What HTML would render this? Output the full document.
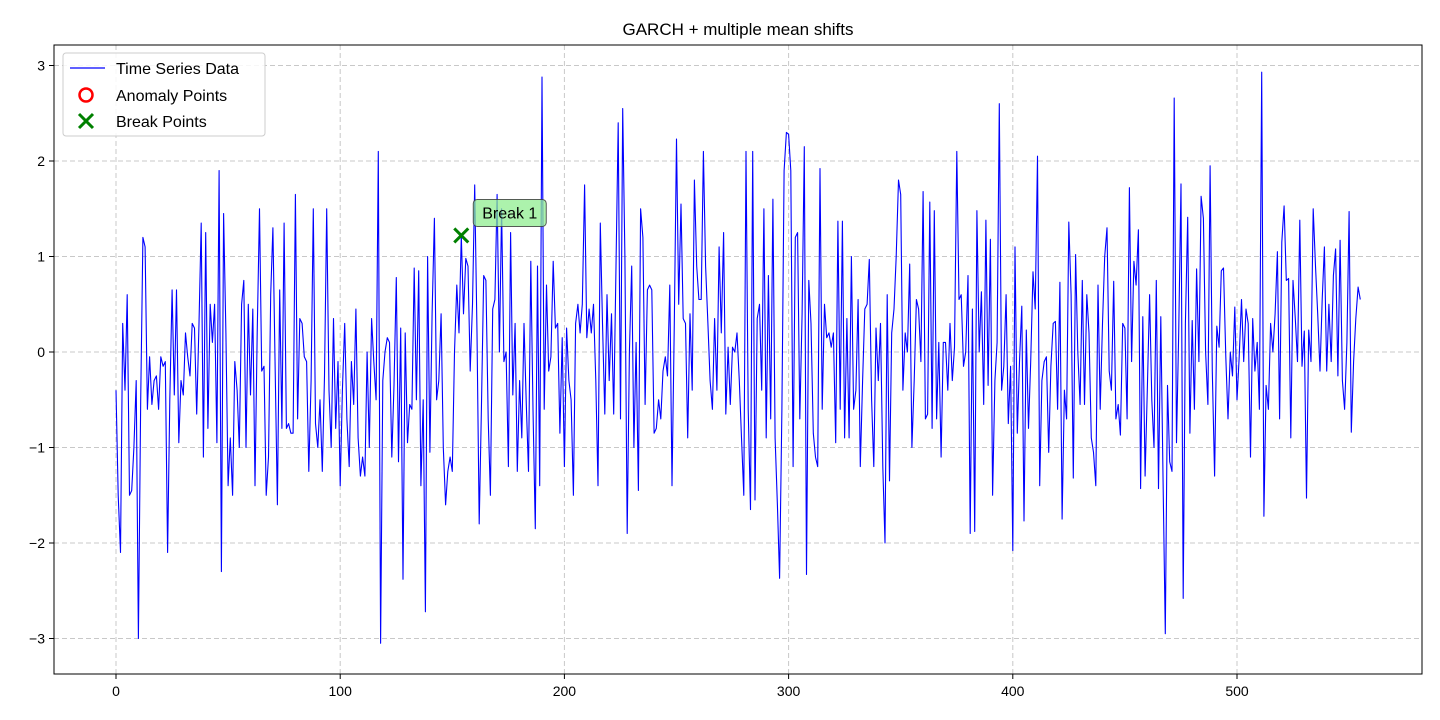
<!DOCTYPE html>
<html><head><meta charset="utf-8"><style>
body{margin:0;background:#fff;}
svg{display:block;font-family:"Liberation Sans","DejaVu Sans",sans-serif;}
</style></head><body>
<svg id="chart" width="1440" height="720">
<rect width="1440" height="720" fill="#fff"/>
<text x="738" y="35" font-size="17" text-anchor="middle">GARCH + multiple mean shifts</text>
<g id="grid"></g>
<polyline id="series" fill="none" stroke="#0000ff" stroke-width="1.1" stroke-linejoin="round"/>
<g id="breaks"></g>
<rect x="54" y="45" width="1368" height="629" fill="none" stroke="#000" stroke-width="1"/>
<g id="ticks"></g>
<g>
<rect x="63" y="53" width="202" height="83" rx="3" fill="#fff" fill-opacity="0.85" stroke="#ccc"/>
<line x1="70" y1="68" x2="105" y2="68" stroke="#0000ff" stroke-width="1.2"/>
<text x="116" y="74" font-size="16">Time Series Data</text>
<circle cx="86" cy="95" r="6.5" fill="none" stroke="#ff0000" stroke-width="2.5"/>
<text x="116" y="101" font-size="16">Anomaly Points</text>
<path d="M79,114 L93,128 M93,114 L79,128" stroke="#008000" stroke-width="3"/>
<text x="116" y="127" font-size="16">Break Points</text>
</g>
</svg>
<script>
const values = [
-0.4,-1.5,-2.1,0.3,-0.4,0.6,-1.5,-1.45,-1.0,-0.3,
-3.0,-0.5,1.2,1.1,-0.6,-0.05,-0.55,-0.3,-0.25,-0.6,
-0.05,-0.15,-0.1,-2.1,-0.5,0.65,-0.45,0.65,-0.95,-0.3,
-0.45,0.2,-0.05,-0.25,0.3,0.25,-0.65,0.3,1.35,-1.1,
1.25,-0.8,0.5,0.1,0.5,-0.95,1.9,-2.3,1.45,0.2,
-1.4,-0.9,-1.5,-0.1,-0.4,-1.0,0.5,0.75,-1.0,0.5,
-0.45,0.45,-1.4,0.2,1.5,-0.2,-0.15,-1.5,-1.1,0.6,
1.3,-0.2,-1.6,0.65,-0.8,1.35,-0.8,-0.75,-0.85,-0.85,
1.65,-0.7,0.35,0.3,-0.05,-0.1,-1.25,-0.3,1.5,-0.75,
-1.0,-0.5,-1.25,-0.25,1.5,-0.4,-1.0,0.35,-0.8,-0.1,
-1.4,-0.4,0.3,-0.7,-1.2,-0.1,-0.55,0.45,-0.9,-1.3,
-1.1,-1.3,0.0,-1.0,0.35,-0.1,-0.5,2.1,-3.05,-0.3,
0.0,0.15,0.1,-1.1,-0.35,0.78,-1.15,0.25,-2.38,0.2,
-0.95,-0.55,-0.6,0.88,-0.5,0.85,-1.4,-0.5,-2.72,1.0,
-1.05,0.4,1.4,-0.5,-0.3,0.4,-1.0,-1.6,-1.25,-1.1,
-1.25,0.0,0.7,0.2,1.22,0.4,0.98,0.9,-0.2,0.5,
1.75,0.2,-1.8,-0.6,0.8,0.75,-0.7,-1.5,0.45,0.55,
1.65,0.0,1.5,-0.1,0.0,-1.2,1.25,-0.45,0.3,-1.25,
-0.3,-0.9,0.3,-0.55,-1.25,0.95,-0.6,-1.85,0.9,-1.4,
2.88,-0.6,0.7,-0.2,-0.05,0.95,0.25,0.3,-0.85,0.15,
-1.2,0.25,-0.3,-0.5,-1.5,0.3,0.5,0.2,0.5,1.75,
0.15,0.45,0.2,0.5,-0.3,-1.4,1.35,0.3,-0.65,0.6,
-0.3,0.4,-0.65,0.9,2.4,-0.7,2.55,1.0,-1.9,0.0,
0.9,-1.0,0.1,-1.45,1.5,1.2,-0.55,0.65,0.7,0.65,
-0.85,-0.8,-0.5,-0.7,-0.2,-0.05,-0.25,0.7,-1.4,0.3,
2.23,0.5,1.55,0.35,0.3,-0.9,0.4,-0.4,1.8,0.9,
0.55,0.55,2.1,0.9,0.3,-0.3,-0.6,0.35,-0.4,1.1,
0.2,1.25,-0.65,0.05,-0.55,0.05,0.0,0.2,-0.3,-0.9,
-1.5,2.1,-0.6,-1.65,2.1,-1.55,0.35,0.5,-0.4,1.5,
-0.9,0.8,-0.7,1.6,-0.9,-1.6,-2.37,-0.6,1.9,2.3,
2.28,1.9,-1.2,1.2,1.25,-0.7,0.4,2.15,-2.33,0.75,
0.3,-0.85,-1.1,-1.2,1.92,-0.6,0.5,0.15,0.2,0.05,
0.2,-0.95,1.37,-0.6,1.37,-0.9,0.35,-0.9,1.0,-0.6,
-0.4,0.55,-1.2,-0.3,0.45,0.5,0.97,-0.5,-1.2,0.25,
-0.3,0.3,-1.2,-2.0,0.6,-1.35,0.2,0.45,1.0,1.8,
1.65,-0.4,0.2,0.0,0.92,-1.0,-0.3,0.55,0.45,-0.1,
1.68,-0.7,-0.65,1.57,-0.8,1.48,-0.7,0.1,-1.1,0.1,
0.1,-0.4,0.3,-0.3,0.05,2.1,0.55,0.6,-0.15,0.0,
0.8,-1.9,0.45,-1.88,1.48,0.0,0.63,-0.55,1.38,-0.35,
1.18,-1.5,-0.3,0.1,2.6,-0.4,-0.15,0.6,-0.75,-0.15,
-2.08,1.1,-0.85,-0.1,0.48,-1.77,0.23,-0.8,-0.1,0.84,
0.45,2.05,-1.4,-0.3,-0.1,-0.05,-1.05,-0.15,0.3,0.32,
-0.6,0.73,-1.75,-0.4,-0.7,1.36,0.6,-1.32,1.02,0.0,
-0.55,0.75,-0.55,0.6,0.2,-0.9,-1.05,-1.4,0.7,-0.6,
0.3,1.0,1.3,-0.2,-0.4,0.74,-0.7,-0.55,-0.87,0.3,
0.25,-0.7,1.72,-0.1,0.95,0.7,1.28,-1.43,0.37,-1.3,
-0.4,0.6,-0.5,-1.0,0.75,-1.43,0.37,-1.3,-2.95,-0.35,
-1.15,-1.25,2.66,-0.95,0.2,1.76,-2.58,0.3,1.41,-0.85,
0.33,-0.6,0.87,-0.1,1.63,1.4,0.0,-0.55,1.95,-0.2,
-1.3,0.27,0.05,0.85,0.88,-0.05,-0.7,0.0,-0.25,0.47,
-0.5,-0.05,0.55,-0.1,0.45,0.3,-1.1,0.35,-0.2,0.1,
-0.6,2.93,-1.72,-0.35,-0.6,0.3,0.0,0.4,1.05,-0.7,
1.15,1.53,0.75,0.77,-0.9,0.75,0.35,-0.1,1.38,-0.15,
0.22,-1.53,0.23,-0.1,1.5,0.9,0.4,-0.2,0.55,1.1,
-0.2,0.5,-0.1,0.8,1.08,-0.25,1.17,-0.3,-0.6,0.1,
1.47,-0.84,-0.1,0.35,0.68,0.55
];
const breakIdx = [154];
const breakLabels = ["Break 1"];
const xTicks = [0,100,200,300,400,500];
const yTicks = [-3,-2,-1,0,1,2,3];

const X = v => 116 + (v - 0) * 2.2420;
const Y = v => 352 - v * 95.5;
const NS = "http://www.w3.org/2000/svg";
const mk = (t, a, p) => { const e = document.createElementNS(NS, t); for (const k in a) e.setAttribute(k, a[k]); p.appendChild(e); return e; };

const grid = document.getElementById('grid');
const ticks = document.getElementById('ticks');
xTicks.forEach(t => {
  const g = mk('line', {x1: X(t), x2: X(t), y1: 45, y2: 674, stroke: '#c8c8c8', 'stroke-dasharray': '5,3'}, grid);
  
  
  mk('line', {x1: X(t), x2: X(t), y1: 674, y2: 679, stroke: '#000'}, ticks);
  const tx = mk('text', {x: X(t), y: 696, 'font-size': 14, 'text-anchor': 'middle'}, ticks);
  tx.textContent = t;
  
  
});
yTicks.forEach(t => {
  const g = mk('line', {x1: 54, x2: 1422, y1: Y(t), y2: Y(t), stroke: '#c8c8c8', 'stroke-dasharray': '5,3'}, grid);
  
  
  mk('line', {x1: 49, x2: 54, y1: Y(t), y2: Y(t), stroke: '#000'}, ticks);
  const tx = mk('text', {x: 45, y: Y(t) + 5, 'font-size': 14, 'text-anchor': 'end'}, ticks);
  tx.textContent = t < 0 ? '\u2212' + Math.abs(t) : t;
  
  
});

document.getElementById('series').setAttribute('points', values.map((v, i) => X(i).toFixed(1) + ',' + Y(v).toFixed(1)).join(' '));

const br = document.getElementById('breaks');
breakIdx.forEach((b, k) => {
  const cx = X(b), cy = Y(values[b]);
  const m = mk('path', {d: `M${cx-7},${cy-7} L${cx+7},${cy+7} M${cx+7},${cy-7} L${cx-7},${cy+7}`, stroke: '#008000', 'stroke-width': 3}, br);
  
  
  const box = mk('rect', {x: cx + 12, y: cy - 36, width: 73, height: 27, rx: 4, fill: '#90ee90', 'fill-opacity': 0.75, stroke: '#333', 'stroke-opacity': 0.8}, br);
  
  
  const t = mk('text', {x: cx + 48.5, y: cy - 17, 'font-size': 16, 'text-anchor': 'middle'}, br);
  t.textContent = breakLabels[k];
  
  
});
</script>
</body></html>
